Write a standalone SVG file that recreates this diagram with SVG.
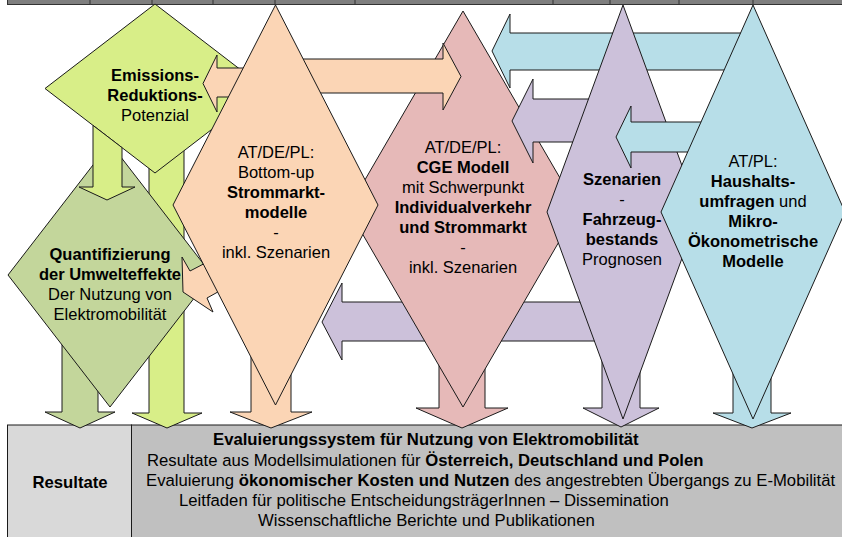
<svg xmlns="http://www.w3.org/2000/svg" width="842" height="537" viewBox="0 0 842 537">
<style>
.s{stroke:#1a1a1a;stroke-width:1;stroke-linejoin:miter}
.yl{fill:#D8EE88}.gr{fill:#C3D69B}.pe{fill:#FBD5B5}.pk{fill:#E6B9B8}.pu{fill:#CCC1DA}.bl{fill:#B7DEE8}
text{font-family:"Liberation Sans",Arial,sans-serif;font-size:16.5px;fill:#000}
.c{text-anchor:middle}
.b{font-weight:bold}
.r{font-size:16.7px}
</style>
<rect width="842" height="537" fill="#fff"/>
<g id="header">
<rect x="7.5" y="-2" width="840" height="6.5" fill="#7F7F7F" stroke="#333" stroke-width="1"/>
<path d="M90 0V4.5M152 0V4.5M213 0V4.5M275 0V4.5M355 0V4.5M553 0V4.5M610 0V4.5M679 0V4.5M753 0V4.5" stroke="#333" stroke-width="1"/>
</g>
<g id="results">
<rect x="7.5" y="425" width="124" height="120" fill="#D9D9D9" class="s"/>
<rect x="131.5" y="425" width="720" height="120" fill="#C0C0C0" class="s"/>
<text x="70" y="488" class="c b r">Resultate</text>
<text x="213" y="445" class="b r">Evaluierungssystem für Nutzung von Elektromobilität</text>
<text x="147" y="466" class="r">Resultate aus Modellsimulationen für <tspan class="b">Österreich, Deutschland und Polen</tspan></text>
<text x="146" y="486" class="r">Evaluierung <tspan class="b">ökonomischer Kosten und Nutzen</tspan> des angestrebten Übergangs zu E-Mobilität</text>
<text x="179" y="506" class="r">Leitfaden für politische EntscheidungsträgerInnen – Dissemination</text>
<text x="258" y="526" class="r">Wissenschaftliche Berichte und Publikationen</text>
</g>
<g id="node-emissionen">
<polygon class="s yl" points="149,140 184,140 184,413 202,413 167,428 132,413 149,413"/>
<polygon class="s yl" points="155,4 265,88.5 155,173 45,88.5"/>
<text x="155" y="81" class="c b">Emissions-</text>
<text x="155" y="101" class="c b">Reduktions-</text>
<text x="155" y="121" class="c">Potenzial</text>
</g>
<g id="node-umwelteffekte">
<polygon class="s gr" points="62,300 98,300 98,412 115,412 80,428 45,412 62,412"/>
<polygon class="s gr" points="110,143 212,275 110,407 8,275"/>
<text x="110" y="260" class="c b">Quantifizierung</text>
<text x="110" y="280" class="c b">der Umwelteffekte</text>
<text x="110" y="300" class="c">Der Nutzung von</text>
<text x="110" y="320" class="c">Elektromobilität</text>
</g>
<g id="connectors-a" class="connectors">
<polygon class="s yl" points="93,125.4 122,147.6 122,187 135,187 107,200 79,187 93,187"/>
<polygon class="s pu" points="600,302 342,302 342,283 322,322 342,360 342,341 600,341"/>
</g>
<g id="node-cge">
<polygon class="s pk" points="439,300 485,300 485,408 508,408 462,428 416,408 439,408"/>
<polygon class="s pk" points="463,11 578,209 463,407 348,209"/>
<text x="463" y="153" class="c">AT/DE/PL:</text>
<text x="463" y="173" class="c b">CGE Modell</text>
<text x="463" y="193" class="c">mit Schwerpunkt</text>
<text x="463" y="213" class="c b">Individualverkehr</text>
<text x="463" y="233" class="c b">und Strommarkt</text>
<text x="463" y="253" class="c">-</text>
<text x="463" y="273" class="c">inkl. Szenarien</text>
</g>
<g id="connectors-b" class="connectors">
<polygon class="s pe" points="260,68 217,68 217,55 203,83.5 217,112 217,97 260,97"/>
<polygon class="s pe" points="290,59 443,59 443,43 461,76.5 443,110 443,93 290,93"/>
<polygon class="s pe" points="182,257 190,271 215,258 225,288 207,298 213,312 183,292"/>
</g>
<g id="node-strommarkt">
<polygon class="s pe" points="251,300 291,300 291,412 312,412 271,428 230,412 251,412"/>
<polygon class="s pe" points="275.5,5 378,205 275.5,405 173,205"/>
<text x="276" y="158" class="c">AT/DE/PL:</text>
<text x="276" y="178" class="c">Bottom-up</text>
<text x="276" y="198" class="c b">Strommarkt-</text>
<text x="276" y="218" class="c b">modelle</text>
<text x="276" y="238" class="c">-</text>
<text x="276" y="258" class="c">inkl. Szenarien</text>
</g>
<g id="connectors-c" class="connectors">
<polygon class="s bl" points="750,33 510,33 510,14 492,51 510,88 510,70 750,70"/>
<polygon class="s pu" points="620,99 533,99 533,79 512,121 533,163 533,142 620,142"/>
</g>
<g id="node-fahrzeugbestand">
<polygon class="s pu" points="602,300 640,300 640,408 659,408 621,427 583,408 602,408"/>
<polygon class="s pu" points="623,5 699,212 623,419 547,212"/>
<text x="622" y="185" class="c b">Szenarien</text>
<text x="622" y="205" class="c">-</text>
<text x="622" y="225" class="c b">Fahrzeug-</text>
<text x="622" y="245" class="c b">bestands</text>
<text x="622" y="265" class="c">Prognosen</text>
</g>
<g id="connectors-d" class="connectors">
<polygon class="s bl" points="725,122 631,122 631,106 616,137 631,168 631,152 725,152"/>
</g>
<g id="node-haushalte">
<polygon class="s bl" points="733,300 771,300 771,413 791,413 752,428 713,413 733,413"/>
<polygon class="s bl" points="753,5 845,212 753,419 661,212"/>
<text x="753" y="167" class="c">AT/PL:</text>
<text x="753" y="187" class="c b">Haushalts-</text>
<text x="753" y="207" class="c"><tspan class="b">umfragen</tspan> und</text>
<text x="753" y="227" class="c b">Mikro-</text>
<text x="753" y="247" class="c b">Ökonometrische</text>
<text x="753" y="267" class="c b">Modelle</text>
</g>
</svg>
